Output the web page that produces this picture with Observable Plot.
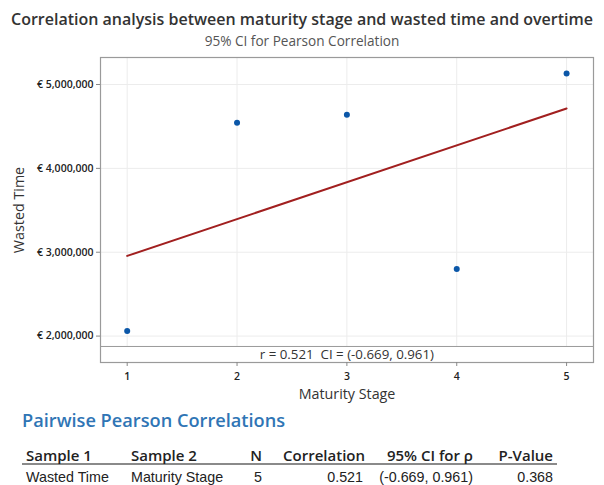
<!DOCTYPE html>
<html>
<head>
<meta charset="utf-8">
<script src="https://cdn.jsdelivr.net/npm/d3@7"></script>
<script src="https://cdn.jsdelivr.net/npm/@observablehq/plot@0.6"></script>
<style>
  html, body { margin: 0; padding: 0; background: #fff; }
  body { width: 604px; height: 485px; position: relative; overflow: hidden; font-family: "Open Sans", "Noto Sans", sans-serif; }
  #title { position: absolute; left: 0; width: 604px; top: 10px; height: 18px; line-height: 18px; text-align: center; font-size: 16px; font-weight: 600; color: #333; white-space: nowrap; }
  #subtitle { position: absolute; left: 0; width: 604px; top: 33px; height: 16px; line-height: 16px; text-align: center; font-size: 13.6px; color: #555; white-space: nowrap; }
  #chart { position: absolute; left: 0; top: 48px; }
  #heading { position: absolute; left: 22px; top: 408px; font-size: 18.2px; font-weight: 600; color: #2f75b5; white-space: nowrap; }
  .th, .td { position: absolute; white-space: nowrap; color: #222; }
  .th { font-family: "Open Sans", sans-serif; font-weight: 600; font-size: 15px; top: 444px; line-height: 22px; }
  .td { font-family: "Liberation Sans", Arial, sans-serif; font-size: 14.3px; top: 468px; line-height: 18px; }
  #hline { position: absolute; left: 22px; width: 535px; top: 463px; height: 2px; background: #8a8a8a; }
</style>
</head>
<body>
<div id="title"></div>
<div id="subtitle"></div>
<div id="chart"></div>
<div id="heading"></div>
<div id="hline"></div>
<div id="tbl"></div>
<script>
// ---- data ----
const maturityStage = [1, 2, 3, 4, 5];
const wastedTime = [2060000, 4545000, 4640000, 2800000, 5130000];
const yTicks = [2000000, 3000000, 4000000, 5000000];
const xTicks = [1, 2, 3, 4, 5];
const titleText = "Correlation analysis between maturity stage and wasted time and overtime";
const subtitleText = "95% CI for Pearson Correlation";
const annotationText = "r = 0.521  CI = (-0.669, 0.961)";
const xLabel = "Maturity Stage";
const yLabel = "Wasted Time";
const tableHeading = "Pairwise Pearson Correlations";
const tableHeaders = ["Sample 1", "Sample 2", "N", "Correlation", "95% CI for \u03c1", "P-Value"];
const tableRow = ["Wasted Time", "Maturity Stage", "5", "0.521", "(-0.669, 0.961)", "0.368"];

document.getElementById("title").textContent = titleText;
document.getElementById("subtitle").textContent = subtitleText;
document.getElementById("heading").textContent = tableHeading;

const data = maturityStage.map((x, i) => ({x, y: wastedTime[i]}));

const yTop = 5322000, yBottom = 1685000, ySep = 1876000;
const fmt = d => "\u20ac " + d3.format(",")(d);

const chart = Plot.plot({
  width: 604,
  height: 357,
  marginTop: 9,
  marginBottom: 43,
  marginLeft: 100,
  marginRight: 11,
  style: {fontFamily: "Open Sans, sans-serif", fontSize: "10px", color: "#222", background: "#fff"},
  x: {domain: [0.757, 5.245], label: null},
  y: {domain: [yBottom, yTop], label: null},
  marks: [
    Plot.ruleX(xTicks, {x: d => d, y1: ySep, y2: yTop, stroke: "#ececec", strokeWidth: 1, strokeOpacity: 1}),
    Plot.ruleY(yTicks, {y: d => d, stroke: "#ececec", strokeWidth: 1, strokeOpacity: 1}),
    Plot.ruleY([ySep], {stroke: "#9a9a9a", strokeWidth: 1}),
    Plot.frame({stroke: "#9a9a9a", strokeWidth: 1.2}),
    Plot.linearRegressionY(data, {x: "x", y: "y", ci: 0, stroke: "#a11f1f", strokeWidth: 2}),
    Plot.dot(data, {x: "x", y: "y", r: 3, fill: "#0b57a8", stroke: "none"}),
    Plot.text([annotationText], {x: () => 3, y: () => (ySep + yBottom) / 2, text: d => d, fontSize: 13.3, fill: "#333"}),
    Plot.axisX({ticks: xTicks, tickSize: 4, tickPadding: 6, tickFormat: d3.format("d"), stroke: "#888", fill: "#222", fontSize: 10.5, fontWeight: 600, label: null}),
    Plot.axisY({ticks: yTicks, tickSize: 4, tickPadding: 3, tickFormat: fmt, stroke: "#888", fill: "#222", fontSize: 10.5, fontWeight: 600, label: null}),
    Plot.text([xLabel], {frameAnchor: "bottom", dy: 36, text: d => d, fontSize: 14.3, fill: "#333"}),
    Plot.text([yLabel], {frameAnchor: "left", dx: -81, rotate: -90, textAnchor: "middle", text: d => d, fontSize: 14.3, fill: "#333"})
  ]
});
document.getElementById("chart").appendChild(chart);

// table (positions: left edge or right edge per column)
const tbl = document.getElementById("tbl");
const headerPos = [{left: 26}, {left: 131}, {right: 262}, {right: 365}, {right: 473}, {right: 553}];
const rowPos = [{left: 26}, {left: 131}, {right: 262}, {right: 363}, {right: 473}, {right: 553}];
function place(cls, text, pos) {
  const el = document.createElement("div");
  el.className = cls;
  el.textContent = text;
  if (pos.left != null) el.style.left = pos.left + "px";
  else el.style.right = (604 - pos.right) + "px";
  tbl.appendChild(el);
}
tableHeaders.forEach((h, i) => place("th", h, headerPos[i]));
tableRow.forEach((v, i) => place("td", v, rowPos[i]));
</script>
</body>
</html>
